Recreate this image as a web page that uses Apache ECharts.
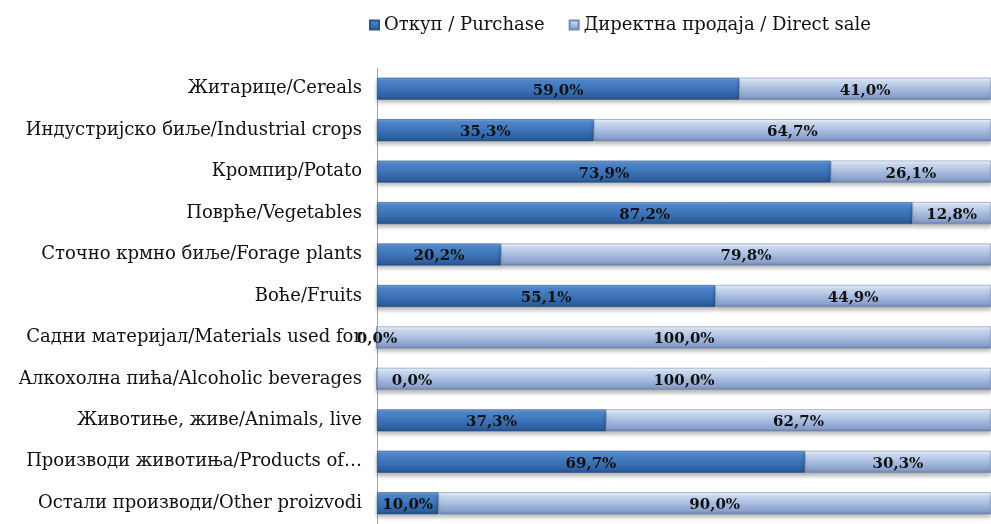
<!DOCTYPE html>
<html>
<head>
<meta charset="utf-8">
<script src="https://cdn.jsdelivr.net/npm/echarts@6/dist/echarts.min.js"></script>
<style>
  html, body {margin: 0; padding: 0; background: #fff;}
  #chart {width: 991px; height: 524px;}
</style>
</head>
<body>
<div id="chart"></div>
<script>
const categories = [
  'Житарице/Cereals',
  'Индустријско биље/Industrial crops',
  'Кромпир/Potato',
  'Поврће/Vegetables',
  'Сточно крмно биље/Forage plants',
  'Воће/Fruits',
  'Садни материјал/Materials used for',
  'Алкохолна пића/Alcoholic beverages',
  'Животиње, живе/Animals, live',
  'Производи животиња/Products of…',
  'Остали производи/Other proizvodi'
];
const purchase = [59.0, 35.3, 73.9, 87.2, 20.2, 55.1, 0.0, 0.0, 37.3, 69.7, 10.0];
const directSale = [41.0, 64.7, 26.1, 12.8, 79.8, 44.9, 100.0, 100.0, 62.7, 30.3, 90.0];
const seriesNames = ['Откуп / Purchase', 'Директна продаја / Direct sale'];

const chart = echarts.init(document.getElementById('chart'));

const grad = (stops) => new echarts.graphic.LinearGradient(0, 0, 0, 1,
  stops.map(([offset, color]) => ({offset, color})));

const darkFill = grad([[0, '#75a5de'], [0.12, '#528ace'], [0.5, '#3d74b9'], [0.85, '#2f609f'], [1, '#254f86']]);
const lightFill = grad([[0, '#f0f6fd'], [0.18, '#cddcf2'], [0.5, '#a8bde1'], [0.85, '#8ba1ca'], [1, '#6c83ac']]);

const fmt = (p) => p.value.toFixed(1).replace('.', ',') + '%';
const labelStyle = {
  show: true,
  position: 'inside',
  formatter: fmt,
  color: '#111',
  fontFamily: 'DejaVu Serif',
  fontWeight: 'bold',
  fontSize: 15,
  offset: [0, 2]
};

chart.setOption({
  animation: false,
  legend: {
    left: 364,
    top: 11,
    itemWidth: 9,
    itemHeight: 9,
    itemGap: 24,
    icon: 'rect',
    textStyle: {fontFamily: 'DejaVu Serif', fontSize: 18, color: '#111'},
    data: seriesNames
  },
  grid: {left: 377, right: 0, top: 68, bottom: -11, containLabel: false},
  xAxis: {
    type: 'value',
    min: 0,
    max: 100,
    show: false
  },
  yAxis: {
    type: 'category',
    inverse: true,
    data: categories,
    axisTick: {show: false},
    axisLine: {show: true, lineStyle: {color: '#a6a6a6', width: 1}},
    axisLabel: {
      margin: 15,
      fontFamily: 'DejaVu Serif',
      fontSize: 18,
      color: '#111'
    }
  },
  series: [
    {
      name: seriesNames[0],
      type: 'bar',
      stack: 'total',
      barWidth: 22,
      data: purchase.map((v, i) => (i === 7 ? {value: v, label: {offset: [35, 2]}} : v)),
      itemStyle: {
        color: darkFill,
        borderColor: '#2a5489',
        borderWidth: 0.6,
        shadowColor: 'rgba(0,0,0,0.28)',
        shadowBlur: 4,
        shadowOffsetY: 3
      },
      label: labelStyle
    },
    {
      name: seriesNames[1],
      type: 'bar',
      stack: 'total',
      barWidth: 22,
      data: directSale,
      itemStyle: {
        color: lightFill,
        borderColor: '#7489ad',
        borderWidth: 0.6,
        shadowColor: 'rgba(0,0,0,0.28)',
        shadowBlur: 4,
        shadowOffsetY: 3
      },
      label: labelStyle
    }
  ]
});
</script>
</body>
</html>
